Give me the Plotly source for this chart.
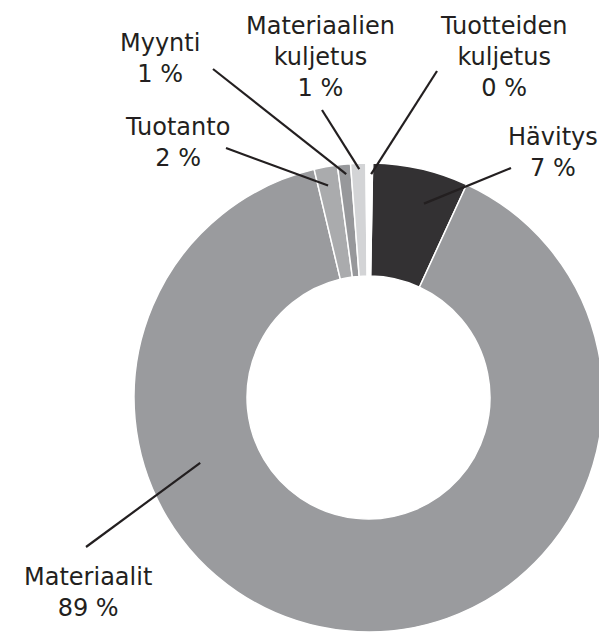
import math
import plotly.graph_objects as go

# ---- data ----
categories = ["Hävitys", "Materiaalit", "Tuotanto", "Myynti",
              "Materiaalien<br>kuljetus", "Tuotteiden<br>kuljetus"]
values = [6.6, 89.4, 1.6, 0.9, 1.05, 0.45]

# ---- style ----
colors = ["#333133", "#9a9b9e", "#aaabad", "#97989b", "#d3d4d6", "#ffffff"]
OFF = 8                      # page body margin in the browser
W, H = 607 - OFF, 632 - OFF  # figure fills the window exactly
FONT = "DejaVu Sans"
TEXT_COLOR = "#231f20"
ROTATION = 1.0
PIE_C = (368.5, 397.5)       # desired centre in window pixels
PIE_R = 235.5
HOLE = 0.518

# pie domain from desired window geometry
dx0 = (PIE_C[0] - OFF - PIE_R) / W
dx1 = (PIE_C[0] - OFF + PIE_R) / W
dy_c = (H - (PIE_C[1] - OFF)) / H
dy0 = max(0.0, dy_c - PIE_R / H)
dy1 = dy_c + PIE_R / H
if dy0 == 0.0:
    dy1 = 2 * dy_c
DOM_X = [dx0, dx1]
DOM_Y = [dy0, min(1.0, dy1)]

# label layout (window pixel positions of text block centre, leader tail,
# fraction along slice and radial fraction for leader tip)
label_layout = [
    dict(text=(553, 152), tail=(511, 168), frac=0.63, rad=0.86),
    dict(text=(88, 592), tail=(86, 547), frac=0.696, rad=0.77),
    dict(text=(178, 142), tail=(226, 148), frac=0.45, rad=0.92),
    dict(text=(160, 58), tail=(213, 69), frac=0.6, rad=0.957),
    dict(text=(320, 57), tail=(322, 110), frac=0.55, rad=0.975),
    dict(text=(503, 57), tail=(437, 71), frac=0.8, rad=0.953),
]

fig = go.Figure(go.Pie(
    labels=categories,
    values=values,
    sort=False,
    direction="clockwise",
    rotation=ROTATION,
    hole=HOLE,
    textinfo="none",
    hoverinfo="label+percent",
    marker=dict(colors=colors, line=dict(color="#ffffff", width=1.5)),
    domain=dict(x=DOM_X, y=DOM_Y),
    showlegend=False,
))

# pie geometry in figure pixels
cx = (DOM_X[0] + DOM_X[1]) / 2 * W
cy = H - (DOM_Y[0] + DOM_Y[1]) / 2 * H
R = min((DOM_X[1] - DOM_X[0]) * W, (DOM_Y[1] - DOM_Y[0]) * H) / 2


def to_paper(px, py):
    return (px - OFF) / W, 1 - (py - OFF) / H


total = sum(values)
annotations = []
shapes = []
start = ROTATION
for cat, v, lay in zip(categories, values, label_layout):
    span = v / total * 360.0
    theta = math.radians(start + lay["frac"] * span)
    start += span
    tip_x = cx + lay["rad"] * R * math.sin(theta)
    tip_y = cy - lay["rad"] * R * math.cos(theta)
    pct = int(v / total * 100 + 0.5)
    tx, ty = to_paper(*lay["text"])
    annotations.append(dict(
        x=tx, y=ty, xref="paper", yref="paper",
        xanchor="center", yanchor="middle", showarrow=False,
        text=f"{cat}<br>{pct} %", align="center",
        font=dict(family=FONT, size=24, color=TEXT_COLOR),
    ))
    sx, sy = to_paper(*lay["tail"])
    shapes.append(dict(
        type="line", xref="paper", yref="paper",
        x0=sx, y0=sy, x1=tip_x / W, y1=1 - tip_y / H,
        line=dict(color=TEXT_COLOR, width=2.2),
    ))

fig.update_layout(
    width=W, height=H,
    margin=dict(l=0, r=0, t=0, b=0),
    paper_bgcolor="#ffffff",
    plot_bgcolor="#ffffff",
    annotations=annotations,
    shapes=shapes,
)

fig.write_html("out.html")
